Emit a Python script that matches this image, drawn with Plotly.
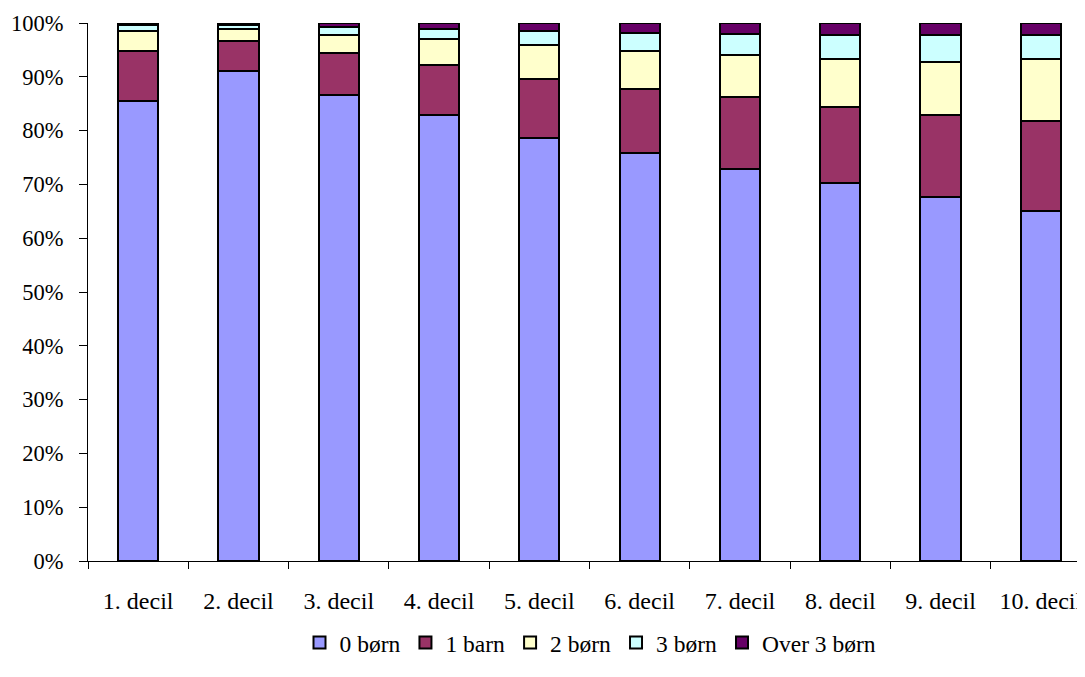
import plotly.graph_objects as go

categories = ["1. decil", "2. decil", "3. decil", "4. decil", "5. decil",
              "6. decil", "7. decil", "8. decil", "9. decil", "10. decil"]
series_names = ["0 børn", "1 barn", "2 børn", "3 børn", "Over 3 børn"]
b0 = [85.5, 91.1, 86.6, 82.9, 78.7, 75.8, 72.9, 70.3, 67.7, 65.1]
b1 = [9.35, 5.6, 7.8, 9.3, 10.9, 11.9, 13.4, 14.1, 15.2, 16.7]
b2 = [3.75, 2.2, 3.4, 4.8, 6.3, 7.1, 7.7, 8.9, 9.9, 11.5]
b3 = [1.1, 0.8, 1.5, 1.9, 2.6, 3.4, 3.9, 4.5, 5.0, 4.4]
b4 = [0.3, 0.3, 0.7, 1.1, 1.5, 1.8, 2.1, 2.2, 2.2, 2.3]
colors = ["#9999FF", "#993366", "#FFFFCC", "#CCFFFF", "#660066"]

fig = go.Figure()
for name, vals, col in zip(series_names, [b0, b1, b2, b3, b4], colors):
    fig.add_trace(go.Bar(
        x=categories, y=[v / 100 for v in vals], name=name,
        marker=dict(color=col, line=dict(color="black", width=2)),
        width=0.4,
    ))

fam = "Liberation Serif, Times New Roman, serif"
font = dict(family=fam, size=23.5, color="black")
xfont = dict(family=fam, size=24, color="black")
yfont = dict(family=fam, size=22.5, color="black")
fig.update_layout(
    barmode="stack",
    width=1085, height=677,
    margin=dict(l=80, r=0, t=15, b=124, autoexpand=False),
    plot_bgcolor="white", paper_bgcolor="white",
    font=font,
    showlegend=True,
    legend=dict(orientation="h", x=0.5, xanchor="center", y=-0.152, yanchor="middle",
                font=font, traceorder="normal", itemwidth=30),
    xaxis=dict(range=[-0.5, 9.52], showline=True, linecolor="black", linewidth=1,
               ticks="outside", tickson="boundaries", ticklen=7, tickcolor="black",
               showgrid=False, tickfont=xfont, automargin=False, ticklabelstandoff=18),
    yaxis=dict(range=[0, 1], tickformat=".0%", dtick=0.1, showline=True, linecolor="black",
               linewidth=1, ticks="outside", ticklen=8, tickcolor="black",
               showgrid=False, zeroline=False, tickfont=yfont, automargin=False,
               ticklabelstandoff=11),
)
fig.write_html("out.html")
